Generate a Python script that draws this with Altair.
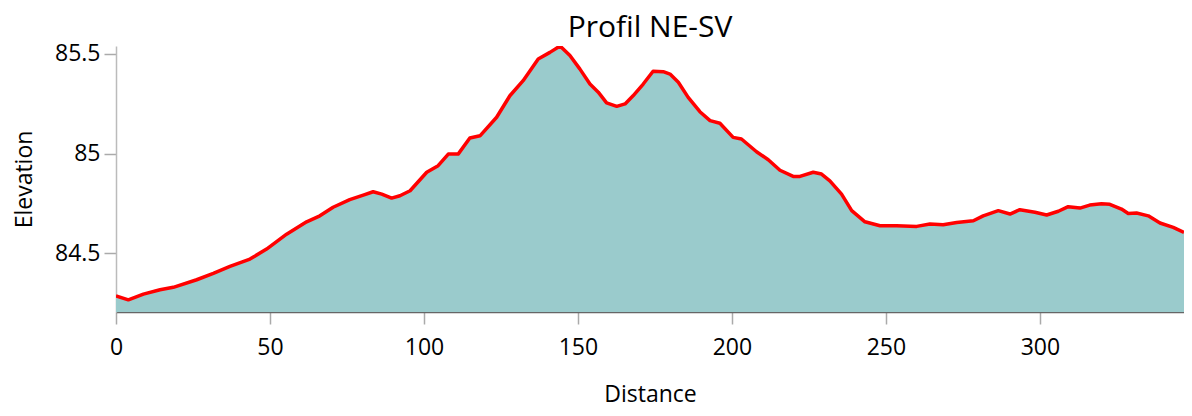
import altair as alt
import pandas as pd

distance = [0, 4, 8.9, 14.3, 18.6, 26.2, 31.6, 37, 43.5, 48.9, 55.4, 61.9, 66.2, 70.5,
            75.9, 80.3, 83.5, 86.3, 89.5, 92.2, 95.5, 100.9, 104.6, 107.9, 111.1, 114.9,
            118.2, 123.6, 127.9, 132.2, 137.1, 140.9, 144.2, 147.4, 150.6, 153.9, 156.6,
            159.3, 162.6, 165.3, 167.9, 171.2, 174.4, 177.7, 179.9, 182.6, 185.8, 189.6,
            192.9, 196.1, 200.4, 203.1, 208, 211.8, 215.6, 219.9, 222.1, 226.4, 229.1,
            231.8, 235.6, 238.9, 243.2, 248.1, 253.5, 260, 264.3, 268.6, 273, 278.4,
            281.6, 286.5, 290.3, 293.5, 298.4, 302.2, 306, 309.2, 313, 316.2, 320, 322.7,
            326.5, 328.7, 331.4, 335.2, 339, 343.3, 346.8]
elevation = [84.285, 84.265, 84.294, 84.316, 84.328, 84.366, 84.398, 84.433, 84.470,
             84.520, 84.595, 84.657, 84.687, 84.730, 84.768, 84.791, 84.808, 84.796,
             84.776, 84.788, 84.813, 84.906, 84.939, 84.997, 84.997, 85.078, 85.089,
             85.182, 85.290, 85.366, 85.475, 85.508, 85.540, 85.492, 85.425, 85.349,
             85.308, 85.254, 85.237, 85.249, 85.290, 85.349, 85.413, 85.411, 85.399,
             85.358, 85.282, 85.210, 85.165, 85.152, 85.081, 85.073, 85.009, 84.969,
             84.916, 84.885, 84.885, 84.906, 84.897, 84.863, 84.796, 84.713, 84.657,
             84.637, 84.637, 84.634, 84.646, 84.642, 84.654, 84.662, 84.687, 84.713,
             84.696, 84.718, 84.705, 84.691, 84.710, 84.733, 84.726, 84.741, 84.748,
             84.745, 84.721, 84.699, 84.701, 84.687, 84.651, 84.629, 84.604]

x_ticks = [0, 50, 100, 150, 200, 250, 300]
y_ticks = [84.5, 85, 85.5]

df = pd.DataFrame({"Distance": distance, "Elevation": elevation})

FONT = "Open Sans"

x_enc = alt.X("Distance:Q", scale=alt.Scale(domain=[0, 346.8], nice=False),
              axis=alt.Axis(values=x_ticks, grid=False, domainColor="#666666", domainWidth=1.5,
                            tickColor="#aaaaaa", tickSize=12, tickWidth=1.5,
                            labelFontSize=23, labelFont=FONT, labelColor="#000000",
                            labelPadding=12, titleFontSize=23, titleFont=FONT,
                            titleFontWeight="normal", titleColor="#000000", titlePadding=24,
                            labelFlush=False))
y_enc = alt.Y("Elevation:Q", scale=alt.Scale(domain=[84.204, 85.54], nice=False, zero=False),
              axis=alt.Axis(values=y_ticks, format=".1~f", grid=False, domainColor="#bbbbbb",
                            domainWidth=1.5, tickColor="#aaaaaa", tickSize=12, tickWidth=1.5,
                            labelFontSize=23, labelFont=FONT, labelColor="#000000",
                            labelPadding=4, titleFontSize=23, titleFont=FONT,
                            titleFontWeight="normal", titleColor="#000000", titlePadding=18))

base = alt.Chart(df)
area = base.mark_area(color="#9ACBCC", opacity=1, clip=True).encode(x=x_enc, y=y_enc)
line = base.mark_line(color="#FF0000", strokeWidth=3.5, strokeJoin="round", clip=True).encode(
    x="Distance:Q", y="Elevation:Q")

chart = (area + line).properties(
    width=1068, height=266,
    title=alt.TitleParams("Profil NE-SV", font=FONT, fontSize=30, fontWeight="normal",
                          color="#000000", anchor="middle", offset=0),
    padding={"left": 5, "top": 4, "right": 0, "bottom": 2},
).configure_view(stroke=None)

chart.save("out.html", embed_options={"renderer": "svg", "actions": False})
